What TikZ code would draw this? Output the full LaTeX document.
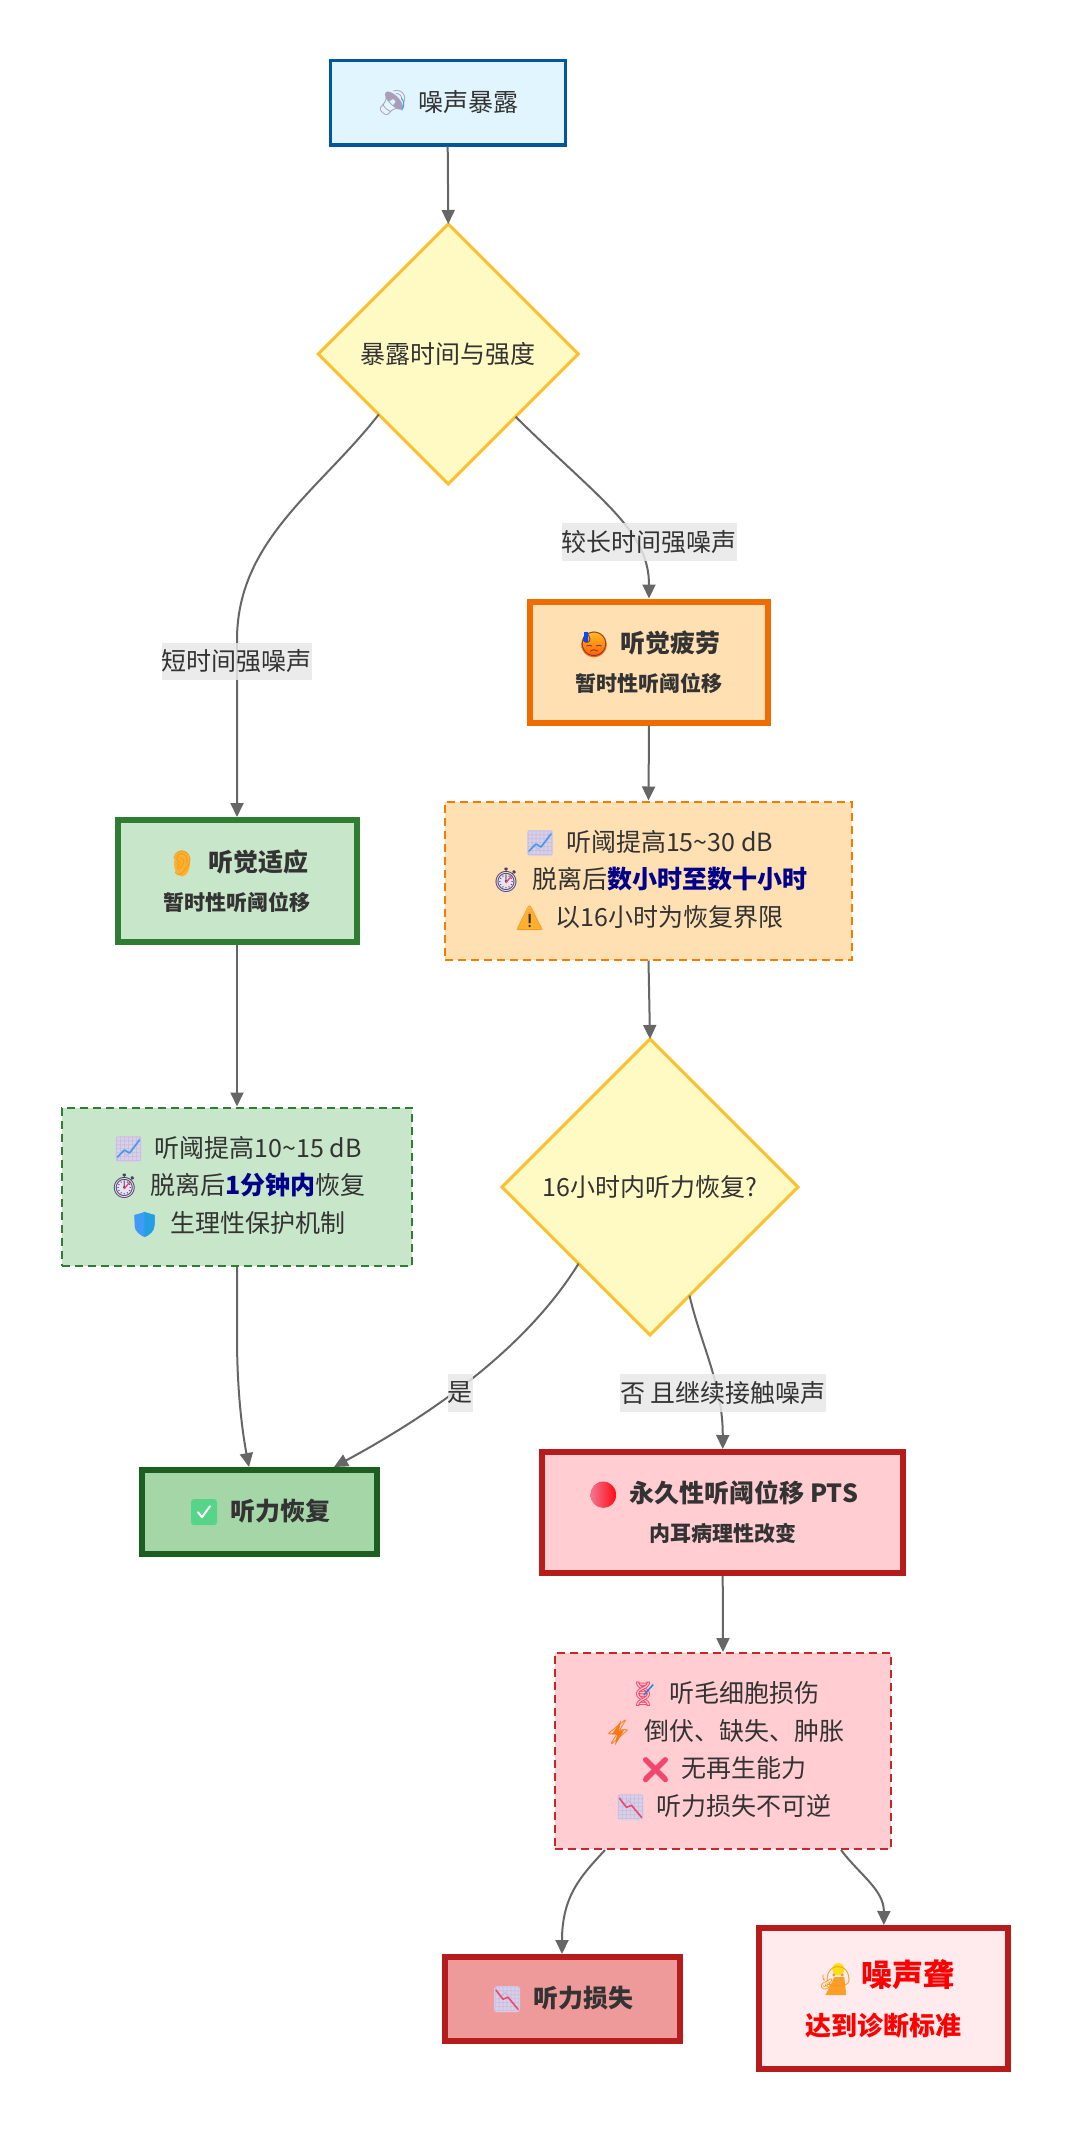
\documentclass[tikz,border=0pt]{standalone}
\usepackage{fontspec}
\usetikzlibrary{shapes.geometric,arrows.meta}
\setmainfont{Noto Sans CJK SC}
\newfontfamily\emofont{Noto Emoji}
\definecolor{tx}{HTML}{333333}
\definecolor{ln}{HTML}{666666}
\definecolor{hl}{HTML}{00008B}
\definecolor{labg}{HTML}{E8E8E8}
\definecolor{dfill}{HTML}{FFF9C4}
\definecolor{dline}{HTML}{FBC02D}
\definecolor{ofill}{HTML}{FFE0B2}
\definecolor{gfill}{HTML}{C8E6C9}
\definecolor{rfill}{HTML}{FFCDD2}
\definecolor{rline}{HTML}{B71C1C}
\definecolor{lil}{HTML}{D8CFE8}
\definecolor{lild}{HTML}{C6BADB}
\definecolor{amber}{HTML}{FFB02E}
\definecolor{amberd}{HTML}{F09A1C}
\definecolor{clk}{HTML}{4A3F6B}
\definecolor{rose}{HTML}{F0476E}
\definecolor{chk}{HTML}{55D48A}
\definecolor{blu}{HTML}{3F9BF5}
% emoji: real glyph between a colour underlay and overlay, in a 26pt cell
\newcommand{\emlayer}[1]{\rlap{\raisebox{-5pt}{\tikz[x=1pt,y=1pt,line width=1pt,solid,line cap=round,line join=round]{\useasboundingbox (0,0) rectangle (26,26);#1}}}}
\newcommand{\emi}[4]{\hspace*{3pt}\makebox[26pt][l]{\emlayer{#1}\rlap{\makebox[26pt][c]{\emofont\mdseries\fontsize{24}{24}\selectfont\textcolor{#2}{#3}}}\emlayer{#4}}\hspace{13pt}}
\newcommand{\echartup}{\emi{\fill[lil,rounded corners=3pt] (0,0) rectangle (26,26);}{lild}{📈}{\draw[blu,line width=1.6pt] (2,5)--(9,12)--(14,9)--(24,22);}}
\newcommand{\echartdn}{\emi{\fill[lil,rounded corners=3pt] (0,0) rectangle (26,26);}{lild}{📉}{\draw[rose,line width=1.6pt] (2,22)--(9,13)--(14,15)--(24,3);}}
\newcommand{\eclock}{\emi{\fill[lil!60!white] (13,11) circle (10);}{clk}{⏱}{\draw[rose,line width=1.4pt] (13,11)--(18,17);}}
\newcommand{\ewarn}{\emi{\fill[amber] (0,1)--(26,1)--(13,25)--cycle;}{amberd}{⚠}{\fill[clk!60!black] (12,8) rectangle (14,17) (13,5) circle (1.3);}}
\newcommand{\eshield}{\emi{\fill[blu] (3,22)--(13,25)--(23,22)--(23,12)..controls (23,6) and (18,2)..(13,0)..controls (8,2) and (3,6)..(3,12)--cycle;}{blu}{🛡}{\fill[cyan!60!blu] (13,25)--(23,22)--(23,12)..controls (23,6) and (18,2)..(13,0)--cycle;}}
\newcommand{\echeck}{\emi{\fill[chk,rounded corners=3pt] (0,0) rectangle (26,26);}{chk}{✅}{\draw[white,line width=2pt] (7,13)--(11,8)--(19,19);}}
\newcommand{\ered}{\emi{}{rose!85!red}{🔴}{\shade[left color=rose!75!white,right color=red!85!rose] (13,13) circle (13);}}
\newcommand{\eface}{\emi{\shade[top color=amber!80!yellow,bottom color=orange!70!red] (13,13) circle (13);}{clk!70!red}{😓}{\fill[blue!70!cyan] (3,15) rectangle (7,25);}}
\newcommand{\eear}{\emi{\fill[amber] (13,13) ellipse (8 and 13);}{amberd}{👂}{}}
\newcommand{\edna}{\emi{}{rose}{🧬}{\draw[cyan!70!blue,line width=1.4pt] (14,13)--(23,23);}}
\newcommand{\ebolt}{\emi{\fill[amberd!80!red] (16,25)--(7,11)--(12,11)--(10,0)--(19,15)--(14,15)--cycle;}{amberd!80!red}{⚡}{}}
\newcommand{\ecross}{\emi{}{rose}{❌}{\draw[rose,line width=5pt] (3,3)--(23,23) (3,23)--(23,3);}}
\newcommand{\espk}{\emi{}{lild!85!black}{🔊}{\draw[blu,line width=1pt] (22,6) arc (-40:40:9);}}
\newcommand{\edeaf}{\emi{\fill[amber!90!red] (3,-4)--(24,-4)--(22,14)--(12,14)--cycle;\fill[yellow!70!amber] (16,22) circle (6);}{amberd}{🧏}{}}
\newcommand{\sbt}[1]{{\bfseries\fontsize{21}{39}\selectfont #1}}
\tikzset{
  base/.style={rectangle,draw,inner sep=0pt,align=center,text=tx,font=\fontsize{25}{37.5}\selectfont},
  thick box/.style={base,line width=6pt,font=\bfseries\fontsize{25}{39}\selectfont},
  dash box/.style={base,line width=2pt,dash pattern=on 8pt off 5pt},
  choice/.style={diamond,draw=dline,fill=dfill,line width=3pt,outer sep=0pt,inner sep=0pt,text=tx,font=\fontsize{25}{37.5}\selectfont},
  edge/.style={draw=ln,line width=2pt,-{Triangle[length=14pt,width=13pt]}},
  lab/.style={fill=labg,fill opacity=.85,text opacity=1,inner xsep=0pt,inner ysep=0pt,minimum height=37.5pt,text=tx,font=\fontsize{25}{30}\selectfont}
}
\begin{document}
\begin{tikzpicture}[x=1pt,y=-1pt]
\useasboundingbox[fill=white] (0,0) rectangle (1070,2130);
\node[base,line width=3pt,draw={rgb,255:red,1;green,87;blue,155},fill={rgb,255:red,225;green,245;blue,254},minimum width=235pt,minimum height=84pt] (start) at (447.7,103) {\espk 噪声暴露};
\node[choice,minimum width=260pt,minimum height=260pt] (d1) at (448.3,354) {暴露时间与强度};
\node[thick box,draw={rgb,255:red,239;green,108;blue,0},fill=ofill,minimum width=238pt,minimum height=121pt] (fatigue) at (649,662) {\eface 听觉疲劳\\ \sbt{暂时性听阈位移}};
\node[dash box,draw={rgb,255:red,245;green,124;blue,0},fill=ofill,minimum width=407pt,minimum height=158pt] (fnote) at (648.5,880.5) {\echartup 听阈提高15\textasciitilde 30 dB\\ \eclock 脱离后\textcolor{hl}{\bfseries 数小时至数十小时}\\ \ewarn 以16小时为恢复界限};
\node[thick box,draw={rgb,255:red,46;green,125;blue,50},fill=gfill,minimum width=239pt,minimum height=122pt] (adapt) at (237,881) {\eear 听觉适应\\ \sbt{暂时性听阈位移}};
\node[dash box,draw={rgb,255:red,46;green,125;blue,50},fill=gfill,minimum width=350pt,minimum height=158pt] (anote) at (237,1186.5) {\echartup 听阈提高10\textasciitilde 15 dB\\ \eclock 脱离后\textcolor{hl}{\bfseries 1分钟内}恢复\\ \eshield 生理性保护机制};
\node[choice,minimum width=296pt,minimum height=296pt] (d2) at (650,1187) {16小时内听力恢复?};
\node[thick box,draw={rgb,255:red,27;green,94;blue,32},fill={rgb,255:red,165;green,214;blue,167},minimum width=235pt,minimum height=84pt] (recover) at (259,1512) {\echeck 听力恢复};
\node[thick box,draw=rline,fill=rfill,minimum width=361pt,minimum height=121pt] (pts) at (722.7,1512.5) {\ered 永久性听阈位移 PTS\\ \sbt{内耳病理性改变}};
\node[dash box,draw={rgb,255:red,198;green,40;blue,40},fill=rfill,minimum width=336pt,minimum height=196pt] (pnote) at (723,1751) {\edna 听毛细胞损伤\\ \ebolt 倒伏、缺失、肿胀\\ \ecross 无再生能力\\ \echartdn 听力损失不可逆};
\node[thick box,draw=rline,fill={rgb,255:red,239;green,154;blue,154},minimum width=235pt,minimum height=84pt] (loss) at (562,1999) {\echartdn 听力损失};
\node[thick box,draw=rline,fill={rgb,255:red,255;green,235;blue,238},text=red,minimum width=249pt,minimum height=141pt,font=\bfseries\fontsize{31}{49}\selectfont] (deaf) at (883.8,1998.5) {\hspace*{6pt}\edeaf 噪声聋\\ {\fontsize{26}{49}\selectfont 达到诊断标准}};

\path[edge] (start.south) -- (d1.north);
\path[edge] (d1.221.9) .. controls (320,490) and (237,540) .. (237,640) -- (adapt.north);
\path[edge] (d1.-43.4) .. controls (600,500) and (649,530) .. (fatigue.north);
\path[edge] (fatigue.south) -- (fnote.north);
\path[edge] (fnote.south) -- (d2.north);
\path[edge] (adapt.south) -- (anote.north);
\path[edge] (anote.south) -- ++(0,70) .. controls (237,1390) and (242,1430) .. ([xshift=-10pt]recover.north);
\path[edge] (d2.227.3) .. controls (525,1350) and (430,1415) .. ([xshift=75pt]recover.north);
\path[edge] (d2.-70.6) .. controls (701,1345) and (723,1385) .. (pts.north);
\path[edge] (pts.south) -- (pnote.north);
\path[edge] (pnote.220.5) .. controls (582,1875) and (562,1895) .. (loss.north);
\path[edge] (pnote.-40.4) .. controls (860,1875) and (884,1890) .. (deaf.north);

\node[lab] (l1) at (236.8,661.5) {短时间强噪声};
\node[lab] (l2) at (649,542) {较长时间强噪声};
\node[lab] (l3) at (460,1393) {是};
\node[lab] (l4) at (723,1393) {否 且继续接触噪声};
\end{tikzpicture}
\end{document}
